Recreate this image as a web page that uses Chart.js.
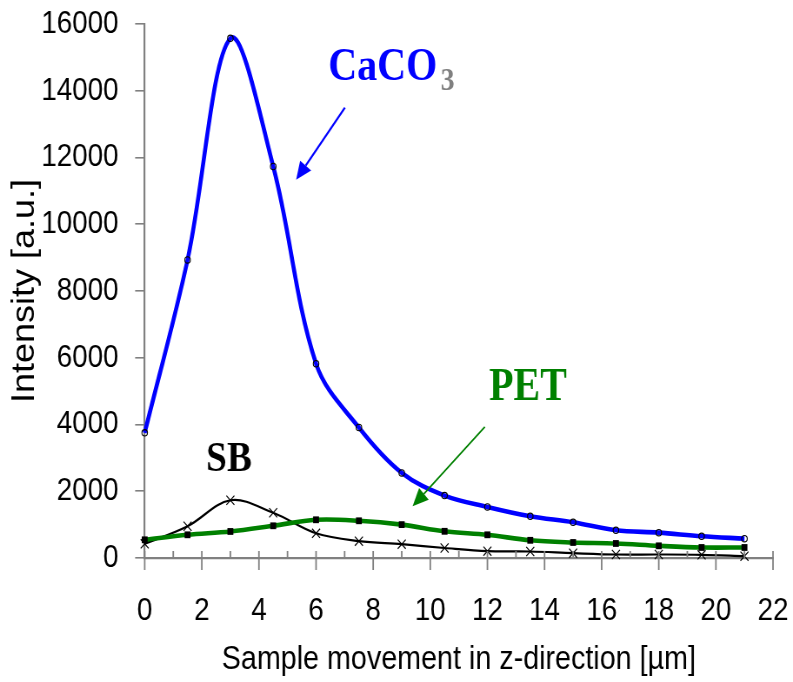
<!DOCTYPE html>
<html>
<head>
<meta charset="utf-8">
<script src="https://cdn.jsdelivr.net/npm/chart.js@4/dist/chart.umd.min.js"></script>
<style>
  html, body { margin: 0; padding: 0; background: #ffffff; }
  #wrap { width: 793px; height: 682px; overflow: hidden; position: relative; }
  /* the plot is laid out on a wider canvas and narrowed horizontally */
  #c { position: absolute; left: 0; top: 0; transform-origin: 0 0; }
</style>
</head>
<body>
<div id="wrap"><canvas id="c" width="912" height="682"></canvas></div>
<script>
// Sample positions along z [µm]
const positions = [0, 1.5, 3, 4.5, 6, 7.5, 9, 10.5, 12, 13.5, 15, 16.5, 18, 19.5, 21];

// Band intensities [a.u.]
const caco3 = [3750, 8930, 15570, 11730, 5820, 3910, 2550, 1870, 1530, 1250, 1070, 830, 760, 650, 580];
const pet   = [545, 695, 795, 965, 1145, 1115, 1000, 800, 695, 530, 465, 435, 365, 315, 315];
const sb    = [425, 950, 1730, 1355, 740, 505, 415, 300, 205, 195, 145, 105, 105, 95, 55];

// Axis ticks
const xTickValues = [0, 2, 4, 6, 8, 10, 12, 14, 16, 18, 20, 22];
const yTickValues = [0, 2000, 4000, 6000, 8000, 10000, 12000, 14000, 16000];

// Curve labels: text and anchor (data units), arrows from -> to (data units)
const labelNames  = ['CaCO', 'PET', 'SB'];
const labelColors = ['#0000ff', '#008000', '#000000'];
const labelX      = [6.43, 12.06, 2.15];
const labelY      = [14320, 4744, 2600];
const arrowFromX  = [7.01, 11.91];
const arrowFromY  = [13495, 3927];
const arrowToX    = [5.30, 9.38];
const arrowToY    = [11330, 1550];

const CANVAS_W = 912, PAGE_W = 793;
const SQUEEZE = PAGE_W / CANVAS_W;
const AXIS_GREY = '#808080';
const SANS = "'Liberation Sans', Arial, sans-serif";
const SERIF = "'Liberation Serif', 'Times New Roman', serif";

document.getElementById('c').style.transform = 'scaleX(' + SQUEEZE + ')';

function toPoints(values) {
  return positions.map((x, i) => ({ x: x, y: values[i] }));
}

// Tick marks on the x axis: long ticks at labelled values crossing the axis, short ones in between
const xTickMarks = {
  id: 'xTickMarks',
  afterDraw(chart) {
    const sx = chart.scales.x;
    const y0 = chart.chartArea.bottom;
    const ctx = chart.ctx;
    ctx.save();
    ctx.strokeStyle = AXIS_GREY;
    ctx.lineWidth = 1.8;
    for (let v = 0; v <= 22; v++) {
      const px = sx.getPixelForValue(v);
      ctx.beginPath();
      ctx.moveTo(px, y0 - 7);
      ctx.lineTo(px, v % 2 === 0 ? y0 + 12 : y0);
      ctx.stroke();
    }
    ctx.restore();
  }
};

// Series names with arrows pointing at their curves
const curveLabels = {
  id: 'curveLabels',
  afterDatasetsDraw(chart) {
    const sx = chart.scales.x, sy = chart.scales.y;
    const ctx = chart.ctx;
    ctx.save();

    for (let i = 0; i < arrowFromX.length; i++) {
      const x1 = sx.getPixelForValue(arrowFromX[i]);
      const y1 = sy.getPixelForValue(arrowFromY[i]);
      const x2 = sx.getPixelForValue(arrowToX[i]);
      const y2 = sy.getPixelForValue(arrowToY[i]);
      const ang = Math.atan2(y2 - y1, x2 - x1);
      const headLen = 18, headHalf = 8;
      const bx = x2 - headLen * Math.cos(ang);
      const by = y2 - headLen * Math.sin(ang);
      ctx.strokeStyle = labelColors[i];
      ctx.fillStyle = labelColors[i];
      ctx.lineWidth = i === 0 ? 2.3 : 1.8;
      ctx.beginPath();
      ctx.moveTo(x1, y1);
      ctx.lineTo(bx, by);
      ctx.stroke();
      ctx.beginPath();
      ctx.moveTo(x2, y2);
      ctx.lineTo(bx + headHalf * Math.sin(ang), by - headHalf * Math.cos(ang));
      ctx.lineTo(bx - headHalf * Math.sin(ang), by + headHalf * Math.cos(ang));
      ctx.closePath();
      ctx.fill();
    }

    ctx.textAlign = 'left';
    ctx.textBaseline = 'alphabetic';
    const sizes = [46, 46, 43];
    for (let i = 0; i < labelNames.length; i++) {
      const px = sx.getPixelForValue(labelX[i]);
      const py = sy.getPixelForValue(labelY[i]);
      ctx.font = 'bold ' + sizes[i] + 'px ' + SERIF;
      ctx.fillStyle = labelColors[i];
      ctx.fillText(labelNames[i], px, py);
      if (i === 0) {
        const w = ctx.measureText(labelNames[i]).width;
        ctx.font = 'bold 32px ' + SERIF;
        ctx.fillStyle = '#808080';
        ctx.fillText('3', px + w + 4, py + 10);
      }
    }
    ctx.restore();
  }
};

new Chart(document.getElementById('c'), {
  type: 'line',
  data: {
    datasets: [
      {
        label: 'CaCO3',
        data: toPoints(caco3),
        borderColor: '#0000ff',
        borderWidth: 4.6,
        tension: 0.35,
        pointStyle: 'circle',
        pointRadius: 3.2,
        pointBorderWidth: 1.1,
        pointBorderColor: '#000000',
        pointBackgroundColor: 'rgba(0,0,0,0)',
        clip: false
      },
      {
        label: 'PET',
        data: toPoints(pet),
        borderColor: '#008000',
        borderWidth: 4.6,
        tension: 0.35,
        pointStyle: 'rect',
        pointRadius: 4.8,
        pointBorderWidth: 0,
        pointBorderColor: '#000000',
        pointBackgroundColor: '#000000',
        clip: false
      },
      {
        label: 'SB',
        data: toPoints(sb),
        borderColor: '#000000',
        borderWidth: 2.2,
        tension: 0.35,
        pointStyle: 'crossRot',
        pointRadius: 6.5,
        pointBorderWidth: 1.2,
        pointBorderColor: '#000000',
        pointBackgroundColor: '#000000',
        clip: false
      }
    ]
  },
  options: {
    responsive: false,
    animation: false,
    devicePixelRatio: 1,
    events: [],
    layout: { padding: { top: 24, right: 23, bottom: 0, left: 0 } },
    plugins: {
      legend: { display: false },
      tooltip: { enabled: false }
    },
    scales: {
      x: {
        type: 'linear',
        min: 0,
        max: 22,
        afterBuildTicks(scale) {
          scale.ticks = xTickValues.map(v => ({ value: v }));
        },
        afterFit(scale) {
          scale.height = 124;
          scale.paddingLeft = 0;
          scale.paddingRight = 0;
        },
        grid: { display: false, drawTicks: false },
        border: { display: true, color: AXIS_GREY, width: 2.2 },
        ticks: {
          color: '#000000',
          padding: 34,
          maxRotation: 0,
          autoSkip: false,
          callback: v => String(v),
          font: { family: SANS, size: 32, lineHeight: 1.2 }
        },
        title: {
          display: true,
          text: 'Sample movement in z-direction [µm]',
          color: '#000000',
          padding: { top: 2, bottom: 2 },
          font: { family: SANS, size: 33, lineHeight: 1.2 }
        }
      },
      y: {
        type: 'linear',
        min: 0,
        max: 16000,
        afterBuildTicks(scale) {
          scale.ticks = yTickValues.map(v => ({ value: v }));
        },
        afterFit(scale) {
          scale.width = 166.4;
          scale.paddingTop = 0;
          scale.paddingBottom = 0;
        },
        grid: {
          drawOnChartArea: false,
          drawTicks: true,
          tickLength: 11,
          color: AXIS_GREY,
          lineWidth: 1.6
        },
        border: { display: true, color: AXIS_GREY, width: 2.2 },
        ticks: {
          color: '#000000',
          padding: 19,
          autoSkip: false,
          callback: v => String(v),
          font: { family: SANS, size: 32, lineHeight: 1.2 }
        },
        title: {
          display: true,
          text: 'Intensity [a.u.]',
          color: '#000000',
          padding: { top: 7, bottom: 4 },
          font: { family: SANS, size: 36, lineHeight: 1.2 }
        }
      }
    }
  },
  plugins: [xTickMarks, curveLabels]
});
</script>
</body>
</html>
